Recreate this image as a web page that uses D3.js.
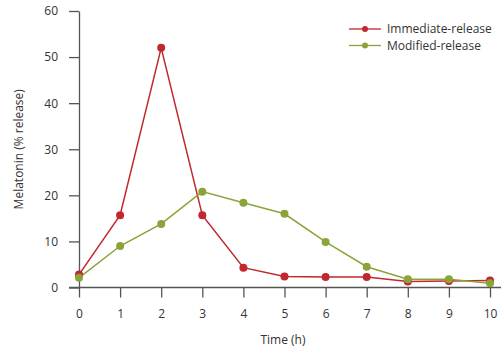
<!DOCTYPE html>
<html>
<head>
<meta charset="utf-8">
<script src="https://cdn.jsdelivr.net/npm/d3@7"></script>
<style>
  body { margin: 0; background: #fff; }
  svg { display: block; font-family: "Open Sans", "Noto Sans", sans-serif; }
</style>
</head>
<body>
<div id="chart"></div>
<script>
const hours = [0, 1, 2, 3, 4, 5, 6, 7, 8, 9, 10];
const immediate = [2.8, 15.7, 52, 15.7, 4.3, 2.4, 2.3, 2.3, 1.3, 1.4, 1.5];
const modified = [2.1, 9.0, 13.8, 20.8, 18.4, 16.0, 9.9, 4.5, 1.8, 1.8, 0.9];
const yTicks = [0, 10, 20, 30, 40, 50, 60];

const series = [
  { name: "Immediate-release", values: immediate, color: "#c1272d" },
  { name: "Modified-release", values: modified, color: "#8ba43a" },
];

const W = 501, H = 351;
const svg = d3.select("#chart").append("svg").attr("width", W).attr("height", H);

const x = d3.scaleLinear().domain([0, 10]).range([79, 490]);
const y = d3.scaleLinear().domain([0, 60]).range([287.5, 11]);
const axisColor = "#555";
const textColor = "#333";

// y axis
svg.append("g")
  .attr("transform", "translate(79,0)")
  .call(d3.axisLeft(y).tickValues(yTicks).tickSize(10).tickPadding(11).tickSizeOuter(0))
  .call(g => g.select(".domain").attr("stroke", axisColor).attr("stroke-width", 1.3))
  .call(g => g.selectAll(".tick line").attr("stroke", axisColor).attr("stroke-width", 1.3))
  .call(g => g.selectAll(".tick text").attr("fill", textColor).attr("font-size", 12)
    .attr("font-family", "'Open Sans', sans-serif"));

// x axis
svg.append("g")
  .attr("transform", "translate(0,287.5)")
  .call(d3.axisBottom(x).tickValues(hours).tickSize(10).tickPadding(12).tickSizeOuter(0))
  .call(g => g.select(".domain").remove())
  .call(g => g.selectAll(".tick line").attr("stroke", axisColor).attr("stroke-width", 1.3))
  .call(g => g.selectAll(".tick text").attr("fill", textColor).attr("font-size", 12)
    .attr("font-family", "'Open Sans', sans-serif"));

svg.append("line")
  .attr("x1", 69).attr("x2", 501).attr("y1", 287.5).attr("y2", 287.5)
  .attr("stroke", axisColor).attr("stroke-width", 1.3);

// axis titles
svg.append("text")
  .attr("x", 283).attr("y", 344).attr("text-anchor", "middle")
  .attr("fill", textColor).attr("font-size", 12).text("Time (h)");

svg.append("text")
  .attr("transform", `translate(23,${y(30)}) rotate(-90)`)
  .attr("text-anchor", "middle").attr("fill", textColor).attr("font-size", 12)
  .text("Melatonin (% release)");

const line = d3.line().x((d, i) => x(hours[i])).y(d => y(d));

series.forEach(s => {
  svg.append("path")
    .attr("d", line(s.values))
    .attr("fill", "none").attr("stroke", s.color).attr("stroke-width", 1.5);
});
series.forEach(s => {
  svg.selectAll(null).data(s.values).join("circle")
    .attr("cx", (d, i) => x(hours[i])).attr("cy", d => y(d))
    .attr("r", 4).attr("fill", s.color);
});

// legend
const legend = svg.append("g");
series.forEach((s, i) => {
  const ly = 29 + i * 16.5;
  legend.append("line").attr("x1", 349).attr("x2", 381).attr("y1", ly).attr("y2", ly)
    .attr("stroke", s.color).attr("stroke-width", 1.3);
  legend.append("circle").attr("cx", 365).attr("cy", ly).attr("r", 3).attr("fill", s.color);
  legend.append("text").attr("x", 387).attr("y", ly).attr("dy", "0.35em")
    .attr("fill", textColor).attr("font-size", 12).text(s.name);
});
</script>
</body>
</html>
